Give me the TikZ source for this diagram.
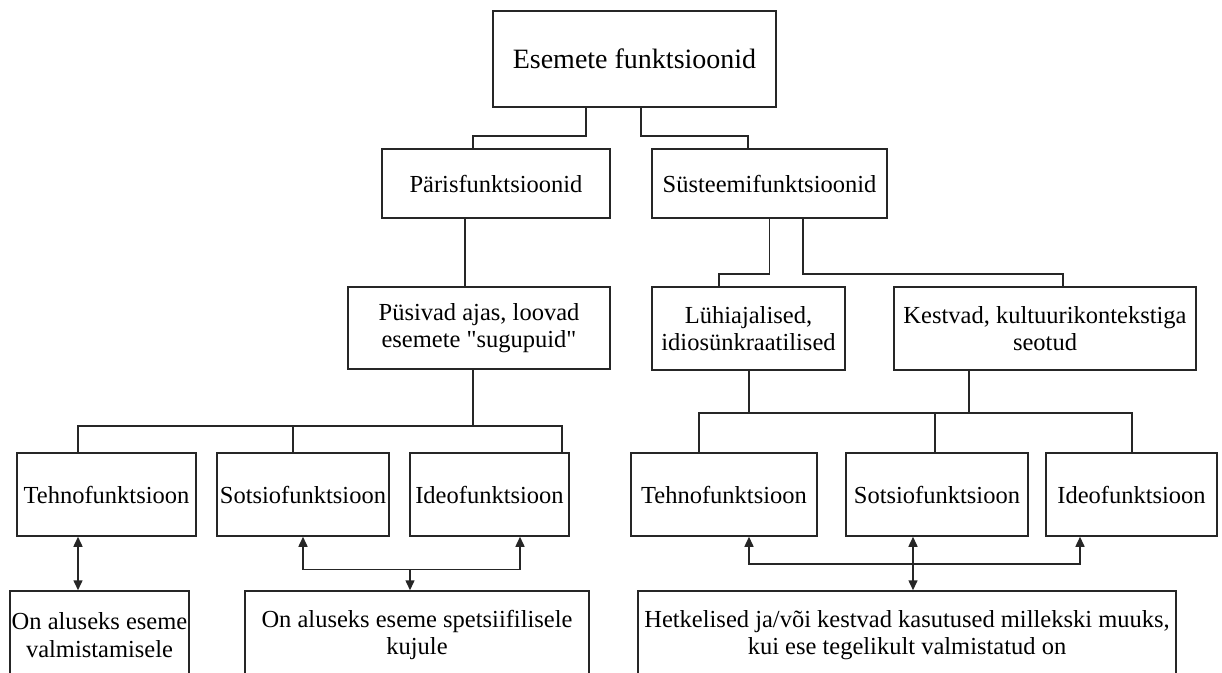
\documentclass[tikz,border=0pt]{standalone}
\usepackage{fontspec}
\setmainfont{Liberation Serif}
\usetikzlibrary{arrows.meta,positioning}

\begin{document}
\begin{tikzpicture}[
    x=1pt, y=-1pt,
    font=\fontsize{24.5}{27.5}\selectfont,
    box/.style={rectangle, draw=black!85, line width=1.5pt, align=center, inner sep=1pt, minimum height=83pt},
    line/.style={draw=black!85, line width=1.5pt},
    arrow/.style={line, -{Triangle[length=10pt,width=9pt]}},
    twoway/.style={line, {Triangle[length=10pt,width=9pt]}-{Triangle[length=10pt,width=9pt]}},
]
\useasboundingbox (0,0) rectangle (1222,672);

% Level 1 - root
\node[box, minimum width=283pt, minimum height=96pt, font=\fontsize{28}{32}\selectfont] (top) at (634.5,59) {Esemete funktsioonid};

% Level 2
\node[box, minimum width=228pt, minimum height=69pt] (paris) at (496,183.5) {Pärisfunktsioonid};
\node[box, minimum width=235pt, minimum height=69pt] (systeem) at (769.5,183.5) {Süsteemifunktsioonid};

% Level 3
\node[box, minimum width=262pt, minimum height=82pt] (pysivad) at (479,328) {Püsivad ajas, loovad\\esemete \textquotedbl sugupuid\textquotedbl};
\node[box, minimum width=193pt, minimum height=83pt] (luhi) at (748.5,328.5) {Lühiajalised,\\idiosünkraatilised};
\node[box, minimum width=302pt, minimum height=83pt] (kestvad) at (1045,328.5) {Kestvad, kultuurikontekstiga\\seotud};

% Level 4 - left group
\node[box, minimum width=179pt] (tehnoL) at (106.5,494.5) {Tehnofunktsioon};
\node[box, minimum width=172pt] (sotsioL) at (303,494.5) {Sotsiofunktsioon};
\node[box, minimum width=159pt] (ideoL) at (489.5,494.5) {Ideofunktsioon};

% Level 4 - right group
\node[box, minimum width=186pt] (tehnoR) at (724,494.5) {Tehnofunktsioon};
\node[box, minimum width=182pt] (sotsioR) at (937,494.5) {Sotsiofunktsioon};
\node[box, minimum width=171pt] (ideoR) at (1131.5,494.5) {Ideofunktsioon};

% Level 5 - descriptions
\node[box, minimum width=179pt, minimum height=88pt] (valm) at (99.5,635) {On aluseks eseme\\valmistamisele};
\node[box, minimum width=344pt, minimum height=88pt] (kuju) at (417,635) {On aluseks eseme spetsiifilisele\\kujule};
\node[box, minimum width=538pt, minimum height=88pt] (kasut) at (907,635) {Hetkelised ja/või kestvad kasutused millekski muuks,\\kui ese tegelikult valmistatud on};

% Tree lines
\draw[line] ([xshift=-48.5]top.south) -- ++(0,28) -| ([xshift=-23]paris.north);
\draw[line] ([xshift=6.5]top.south) -- ++(0,28) -| ([xshift=-21.5]systeem.north);
\draw[line] ([xshift=-31]paris.south) -- ([xshift=-31]paris.south |- pysivad.north);
\draw[line] (systeem.south) -- ++(0,55) -| ([xshift=-29.5]luhi.north);
\draw[line] ([xshift=33.5]systeem.south) -- ++(0,55) -| ([xshift=18]kestvad.north);

% Bus to left group
\draw[line] ([xshift=-6]pysivad.south) -- ++(0,56) coordinate (busL);
\draw[line] ([xshift=-28.5]tehnoL.north) |- (busL) -| ([xshift=72.5]ideoL.north);
\draw[line] ([xshift=-10]sotsioL.north) -- ([xshift=-10]sotsioL.north |- busL);

% Bus to right group
\draw[line] ([xshift=0.5]luhi.south) -- ++(0,42) coordinate (busR);
\draw[line] ([xshift=-76]kestvad.south) -- ([xshift=-76]kestvad.south |- busR);
\draw[line] ([xshift=-25]tehnoR.north) |- (busR) -| ([xshift=0.5]ideoR.north);
\draw[line] ([xshift=-2]sotsioR.north) -- ([xshift=-2]sotsioR.north |- busR);

% Arrows - left
\draw[twoway] ([xshift=-28.5]tehnoL.south) -- ([xshift=-28.5]tehnoL.south |- valm.north);
\draw[arrow] ([xshift=-7]kuju.north) ++(0,-21) coordinate (brL) -- ([xshift=-7]kuju.north);
\draw[arrow] (brL) -| (sotsioL.south);
\draw[arrow] (brL) -| ([xshift=30.5]ideoL.south);

% Arrows - right
\draw[twoway] ([xshift=-24]sotsioR.south) -- ([xshift=-24]sotsioR.south |- kasut.north);
\path ([xshift=-24]sotsioR.south) ++(0,27) coordinate (brR);
\draw[arrow] (brR) -| ([xshift=25]tehnoR.south);
\draw[arrow] (brR) -| ([xshift=-51.5]ideoR.south);

\end{tikzpicture}
\end{document}
